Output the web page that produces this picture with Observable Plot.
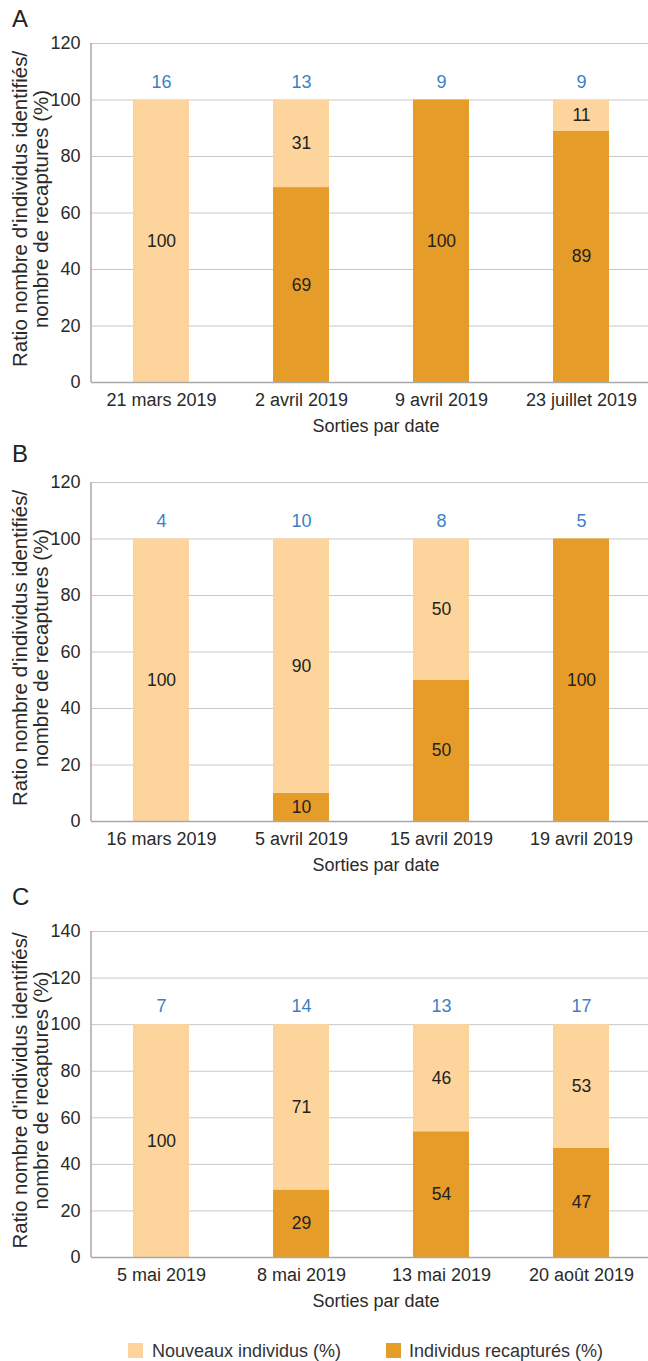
<!DOCTYPE html>
<html><head><meta charset="utf-8">
<script src="https://cdn.jsdelivr.net/npm/d3@7"></script>
<script src="https://cdn.jsdelivr.net/npm/@observablehq/plot@0.6"></script>
<style>
body{margin:0;background:#fff;font-family:"Liberation Sans",Arial,Helvetica,sans-serif;}
#root{position:relative;width:648px;height:1361px;overflow:hidden;background:#fff;}
.panel{position:absolute;left:0;}
.letter{position:absolute;left:12px;font-size:24px;line-height:1;color:#222;}
.leg{position:absolute;font-size:18px;line-height:1;color:#333;white-space:nowrap;}
.sw{position:absolute;width:15px;height:15px;}
</style></head><body><div id="root"></div>
<script>
// ---- data ----
const seriesNames = ["Nouveaux individus (%)", "Individus recapturés (%)"];
const seriesColors = ["#FDD49C", "#E69C29"];
const countColor = "#3C7FC6";
const yLabel = "Ratio nombre d'individus identifiés/\nnombre de recaptures (%)";
const xLabel = "Sorties par date";

const datesA = ["21 mars 2019", "2 avril 2019", "9 avril 2019", "23 juillet 2019"];
const nouveauxA = [100, 31, 0, 11];
const recapA = [0, 69, 100, 89];
const countsA = [16, 13, 9, 9];

const datesB = ["16 mars 2019", "5 avril 2019", "15 avril 2019", "19 avril 2019"];
const nouveauxB = [100, 90, 50, 0];
const recapB = [0, 10, 50, 100];
const countsB = [4, 10, 8, 5];

const datesC = ["5 mai 2019", "8 mai 2019", "13 mai 2019", "20 août 2019"];
const nouveauxC = [100, 71, 46, 53];
const recapC = [0, 29, 54, 47];
const countsC = [7, 14, 13, 17];

const yTicksAB = [0, 20, 40, 60, 80, 100, 120];
const yTicksC = [0, 20, 40, 60, 80, 100, 120, 140];

// ---- drawing ----
function leftAxisLine(...args) {
  const dims = args.find(a => a && typeof a === "object" && a.marginLeft !== undefined && a.height !== undefined);
  const ns = "http://www.w3.org/2000/svg";
  const line = document.createElementNS(ns, "line");
  line.setAttribute("x1", dims.marginLeft);
  line.setAttribute("x2", dims.marginLeft);
  line.setAttribute("y1", dims.marginTop);
  line.setAttribute("y2", dims.height - dims.marginBottom);
  line.setAttribute("stroke", "#a8a8a8");
  line.setAttribute("stroke-width", 1.5);
  return line;
}

function makePanel(dates, nouveaux, recap, counts, yTicks, plotH) {
  const rows = [];
  dates.forEach((d, i) => {
    rows.push({date: d, series: seriesNames[1], value: recap[i]});
    rows.push({date: d, series: seriesNames[0], value: nouveaux[i]});
  });
  const tops = dates.map((d, i) => ({date: d, total: nouveaux[i] + recap[i], n: counts[i]}));
  const order = [seriesNames[1], seriesNames[0]];
  return Plot.plot({
    width: 648,
    height: 43 + plotH + 68,
    marginTop: 43, marginBottom: 68, marginLeft: 91, marginRight: 0,
    style: {fontFamily: '"Liberation Sans", Arial, Helvetica, sans-serif', fontSize: "18px", color: "#2a2a2a", background: "white", overflow: "visible"},
    x: {domain: dates, range: [91, 651], paddingInner: 0.6, paddingOuter: 0.3, tickSize: 0, tickPadding: 11, label: null},
    y: {domain: [0, yTicks[yTicks.length - 1]], ticks: yTicks, tickSize: 0, tickPadding: 11, label: null},
    color: {domain: seriesNames, range: seriesColors},
    marks: [
      Plot.ruleY(yTicks.filter(t => t > 0), {stroke: "#c8c8c8", strokeWidth: 1}),
      Plot.barY(rows, {x: "date", y: "value", fill: "series", z: "series", order}),
      Plot.text(rows.filter(r => r.value > 0), Plot.stackY({x: "date", y: "value", z: "series", order, text: d => String(d.value), fill: "#222", fontSize: 17.5})),
      Plot.text(tops, {x: "date", y: "total", text: "n", dy: -18, fill: countColor}),
      Plot.ruleY([0], {stroke: "#a8a8a8", strokeWidth: 1.5}),
      leftAxisLine,
      Plot.text([yLabel], {frameAnchor: "left", textAnchor: "middle", rotate: -90, dx: -61, dy: -4, fontSize: 20.5, lineHeight: 1.03, fill: "#2a2a2a"}),
      Plot.text([xLabel], {frameAnchor: "bottom", dy: 49, dx: 6, fill: "#2a2a2a"})
    ]
  });
}

const root = document.getElementById("root");
function place(el, top) { el.classList.add("panel"); el.style.top = top + "px"; root.appendChild(el); }

place(makePanel(datesA, nouveauxA, recapA, countsA, yTicksAB, 339), 0);
place(makePanel(datesB, nouveauxB, recapB, countsB, yTicksAB, 339), 439);
place(makePanel(datesC, nouveauxC, recapC, countsC, yTicksC, 326), 888);

[["A", 7], ["B", 442], ["C", 885]].forEach(([t, top]) => {
  const d = document.createElement("div");
  d.className = "letter"; d.textContent = t; d.style.top = top + "px";
  root.appendChild(d);
});

[[128, 152], [386, 409]].forEach(([sx, tx], i) => {
  const s = document.createElement("div");
  s.className = "sw"; s.style.left = sx + "px"; s.style.top = "1343px"; s.style.background = seriesColors[i];
  root.appendChild(s);
  const t = document.createElement("div");
  t.className = "leg"; t.style.left = tx + "px"; t.style.top = "1342px"; t.textContent = seriesNames[i];
  root.appendChild(t);
});
</script>
</body></html>
